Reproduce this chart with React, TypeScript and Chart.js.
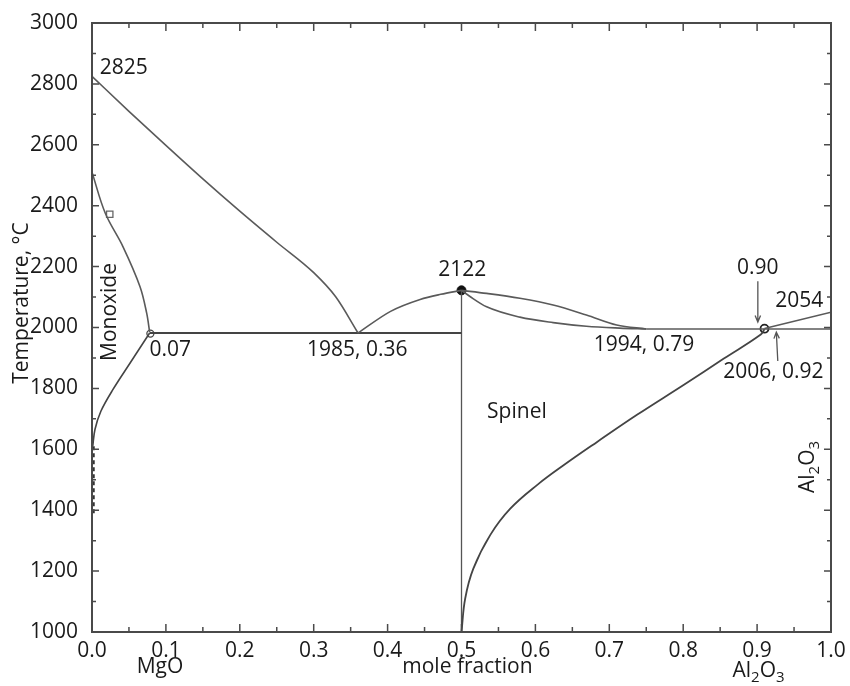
import React, { useEffect, useRef } from "react";
import { Chart, registerables } from "chart.js";

Chart.register(...registerables);

// ---------- data (mole fraction Al2O3, temperature °C) ----------
const mgoLiquidusX = [0, 0.05, 0.1, 0.15, 0.2, 0.25, 0.3, 0.33, 0.36];
const mgoLiquidusT = [2825, 2710, 2598, 2488, 2382, 2280, 2180, 2100, 1982];

const spinelLiqLeftX = [0.36, 0.404, 0.444, 0.472, 0.5];
const spinelLiqLeftT = [1982, 2053, 2092, 2109, 2122];

const spinelLiqRightX = [0.5, 0.534, 0.579, 0.624, 0.669, 0.71, 0.75];
const spinelLiqRightT = [2122, 2112, 2096, 2074, 2041, 2008, 1995];

const spinelSolRightX = [0.5, 0.512, 0.534, 0.579, 0.624, 0.669, 0.714, 0.75];
const spinelSolRightT = [2122, 2101, 2068, 2034, 2016, 2004, 1998, 1995];

const eutecticRightX = [0.75, 1.0];
const eutecticRightT = [1995, 1995];

const aluminaLiqX = [0.91, 1.0];
const aluminaLiqT = [1997, 2050];

const spinelSolvusX = [0.5, 0.505, 0.516, 0.539, 0.566, 0.603, 0.639, 0.684, 0.738, 0.801, 0.855, 0.905, 0.91];
const spinelSolvusT = [1000, 1110, 1208, 1319, 1405, 1484, 1549, 1625, 1714, 1812, 1898, 1977, 1995];

const monoxideSolidusX = [0.0, 0.018, 0.042, 0.065, 0.074, 0.078];
const monoxideSolidusT = [2510, 2375, 2265, 2134, 2047, 1985];

const monoxideSolvusX = [0.078, 0.052, 0.028, 0.012, 0.004, 0.001];
const monoxideSolvusT = [1982, 1885, 1795, 1725, 1665, 1610];

const axisTraceX = [0.002, 0.002];
const axisTraceT = [1610, 1390];

const eutecticLeftX = [0.078, 0.5];
const eutecticLeftT = [1982, 1982];

const spinelVerticalX = [0.5, 0.5];
const spinelVerticalT = [1000, 2122];

// markers
const maxPoint = { x: 0.5, y: 2122 };
const monoxidePoint = { x: 0.079, y: 1980 };
const squarePoint = { x: 0.024, y: 2372 };
const rightPoint = { x: 0.91, y: 1996 };

// axes
const xMin = 0, xMax = 1, xStep = 0.1;
const yMin = 1000, yMax = 3000, yStep = 200;

// annotation texts: [text, x, T]
const notes: [string, number, number][] = [
  ["2825", 0.043, 2852],
  ["0.07", 0.106, 1926],
  ["1985, 0.36", 0.359, 1926],
  ["2122", 0.501, 2189],
  ["Spinel", 0.575, 1722],
  ["1994, 0.79", 0.747, 1943],
  ["0.90", 0.901, 2195],
  ["2054", 0.957, 2087],
  ["2006, 0.92", 0.922, 1854],
];

const FONT = "'Open Sans', 'DejaVu Sans', sans-serif";
const TEXT = "#1a1a1a";
const LINE = "#5a5a5a";

const pts = (xs: number[], ys: number[]) => xs.map((x, i) => ({ x, y: ys[i] }));

function drawFormula(ctx: CanvasRenderingContext2D, cx: number, cy: number, size: number) {
  const parts: [string, boolean][] = [["Al", false], ["2", true], ["O", false], ["3", true]];
  const big = `${size}px ${FONT}`;
  const small = `${Math.round(size * 0.72)}px ${FONT}`;
  let total = 0;
  for (const [t, sub] of parts) {
    ctx.font = sub ? small : big;
    total += ctx.measureText(t).width;
  }
  let x = cx - total / 2;
  ctx.textAlign = "left";
  ctx.textBaseline = "alphabetic";
  for (const [t, sub] of parts) {
    ctx.font = sub ? small : big;
    ctx.fillText(t, x, cy + (sub ? size * 0.22 : 0));
    x += ctx.measureText(t).width;
  }
}

function arrow(ctx: CanvasRenderingContext2D, x1: number, y1: number, x2: number, y2: number) {
  ctx.beginPath();
  ctx.moveTo(x1, y1);
  ctx.lineTo(x2, y2);
  const ang = Math.atan2(y2 - y1, x2 - x1);
  const h = 7;
  ctx.moveTo(x2 - h * Math.cos(ang - 0.4), y2 - h * Math.sin(ang - 0.4));
  ctx.lineTo(x2, y2);
  ctx.lineTo(x2 - h * Math.cos(ang + 0.4), y2 - h * Math.sin(ang + 0.4));
  ctx.stroke();
}

const decor = {
  id: "decor",
  afterDatasetsDraw(chart: any) {
    const { ctx, chartArea: a, scales } = chart;
    const sx = scales.x, sy = scales.y;
    ctx.save();
    // frame
    ctx.strokeStyle = "#4a4a4a";
    ctx.lineWidth = 2;
    ctx.strokeRect(a.left, a.top, a.right - a.left, a.bottom - a.top);
    // inward ticks
    ctx.lineWidth = 1.5;
    ctx.beginPath();
    for (let v = yMin; v <= yMax; v += yStep / 2) {
      const py = sy.getPixelForValue(v);
      const len = (v - yMin) % yStep === 0 ? 7 : 4;
      ctx.moveTo(a.left, py); ctx.lineTo(a.left + len, py);
      ctx.moveTo(a.right, py); ctx.lineTo(a.right - len, py);
    }
    for (let i = 0; i <= 20; i++) {
      const px = sx.getPixelForValue(xMin + (i * xStep) / 2);
      const len = i % 2 === 0 ? 8 : 5;
      ctx.moveTo(px, a.bottom); ctx.lineTo(px, a.bottom - len);
      ctx.moveTo(px, a.top); ctx.lineTo(px, a.top + len);
    }
    ctx.stroke();

    // annotations
    ctx.fillStyle = TEXT;
    ctx.font = `21px ${FONT}`;
    ctx.textAlign = "center";
    ctx.textBaseline = "middle";
    for (const [t, x, T] of notes) {
      ctx.fillText(t, sx.getPixelForValue(x), sy.getPixelForValue(T));
    }
    // Monoxide rotated
    ctx.save();
    ctx.translate(sx.getPixelForValue(0.024), sy.getPixelForValue(2051));
    ctx.rotate(-Math.PI / 2);
    ctx.fillText("Monoxide", 0, 0);
    ctx.restore();
    // Al2O3 rotated on right
    ctx.save();
    ctx.translate(sx.getPixelForValue(0.977), sy.getPixelForValue(1542));
    ctx.rotate(-Math.PI / 2);
    drawFormula(ctx, 0, 0, 21);
    ctx.restore();

    // arrows
    ctx.strokeStyle = "#555";
    ctx.lineWidth = 1.3;
    arrow(ctx, sx.getPixelForValue(0.901), sy.getPixelForValue(2152), sx.getPixelForValue(0.901), sy.getPixelForValue(2018));
    arrow(ctx, sx.getPixelForValue(0.928), sy.getPixelForValue(1890), sx.getPixelForValue(0.926), sy.getPixelForValue(1985));

    // y-axis title
    ctx.fillStyle = TEXT;
    ctx.font = `21px ${FONT}`;
    ctx.textAlign = "center";
    ctx.textBaseline = "middle";
    ctx.save();
    ctx.translate(22, 303);
    ctx.rotate(-Math.PI / 2);
    ctx.fillText("Temperature, °C", 0, 0);
    ctx.restore();

    // x-axis sub-labels
    ctx.textBaseline = "alphabetic";
    ctx.fillText("MgO", sx.getPixelForValue(0.092), 673);
    ctx.fillText("mole fraction", sx.getPixelForValue(0.508), 673);
    drawFormula(ctx, sx.getPixelForValue(0.902), 677, 21);
    ctx.restore();
  },
};

export default function App() {
  const ref = useRef<HTMLCanvasElement | null>(null);
  useEffect(() => {
    if (!ref.current) return;
    const line = (xs: number[], ys: number[], tension = 0.4, extra: any = {}) => ({
      data: pts(xs, ys),
      showLine: true,
      borderColor: LINE,
      borderWidth: 1.6,
      pointRadius: 0,
      tension,
      ...extra,
    });
    const mono = { cubicInterpolationMode: "monotone" };
    const chart = new Chart(ref.current, {
      type: "scatter",
      data: {
        datasets: [
          line(mgoLiquidusX, mgoLiquidusT, 0.4, mono),
          line(spinelLiqLeftX, spinelLiqLeftT, 0.4, mono),
          line(spinelLiqRightX, spinelLiqRightT, 0.4, mono),
          line(spinelSolRightX, spinelSolRightT, 0.4, mono),
          line(eutecticRightX, eutecticRightT, 0),
          line(aluminaLiqX, aluminaLiqT, 0),
          line(spinelSolvusX, spinelSolvusT, 0.4, { borderColor: "#444", borderWidth: 1.8 }),
          line(monoxideSolidusX, monoxideSolidusT, 0.35),
          line(monoxideSolvusX, monoxideSolvusT, 0.35, { borderColor: "#444" }),
          line(axisTraceX, axisTraceT, 0, { borderColor: "#333", borderWidth: 2.5, borderDash: [4, 3] }),
          line(eutecticLeftX, eutecticLeftT, 0, { borderColor: "#444", borderWidth: 1.8 }),
          line(spinelVerticalX, spinelVerticalT, 0, { borderColor: "#555", borderWidth: 1.3 }),
          { data: [maxPoint], pointRadius: 4.5, pointBackgroundColor: "#111", pointBorderColor: "#111" },
          { data: [monoxidePoint], pointRadius: 3.5, pointBackgroundColor: "#fff", pointBorderColor: "#444", pointBorderWidth: 1.3 },
          { data: [squarePoint], pointStyle: "rect", pointRadius: 4.5, pointBackgroundColor: "#fff", pointBorderColor: "#666", pointBorderWidth: 1.3 },
          { data: [rightPoint], pointRadius: 4, pointBackgroundColor: "rgba(255,255,255,0)", pointBorderColor: "#222", pointBorderWidth: 1.8 },
        ] as any,
      },
      options: {
        animation: false,
        responsive: false,
        devicePixelRatio: 1,
        layout: { padding: { left: 0, top: 23, right: 19, bottom: 0 } },
        plugins: { legend: { display: false }, tooltip: { enabled: false } },
        scales: {
          x: {
            type: "linear",
            min: xMin,
            max: xMax,
            grid: { display: false },
            border: { display: false },
            ticks: {
              stepSize: xStep,
              padding: -2,
              color: TEXT,
              font: { family: FONT, size: 21 },
              callback: (v: any) => Number(v).toFixed(1),
            },
            afterFit: (s: any) => { s.height = 54; },
          },
          y: {
            type: "linear",
            min: yMin,
            max: yMax,
            grid: { display: false },
            border: { display: false },
            ticks: {
              stepSize: yStep,
              padding: 6,
              color: TEXT,
              font: { family: FONT, size: 21 },
              callback: (v: any) => String(Math.round(Number(v))),
            },
            afterFit: (s: any) => { s.width = 92; },
          },
        },
      } as any,
      plugins: [decor],
    });
    return () => chart.destroy();
  }, []);
  return (
    <div style={{ position: "absolute", left: 0, top: 0, width: 850, height: 686, background: "#fff" }}>
      <canvas ref={ref} width={850} height={686} />
    </div>
  );
}
